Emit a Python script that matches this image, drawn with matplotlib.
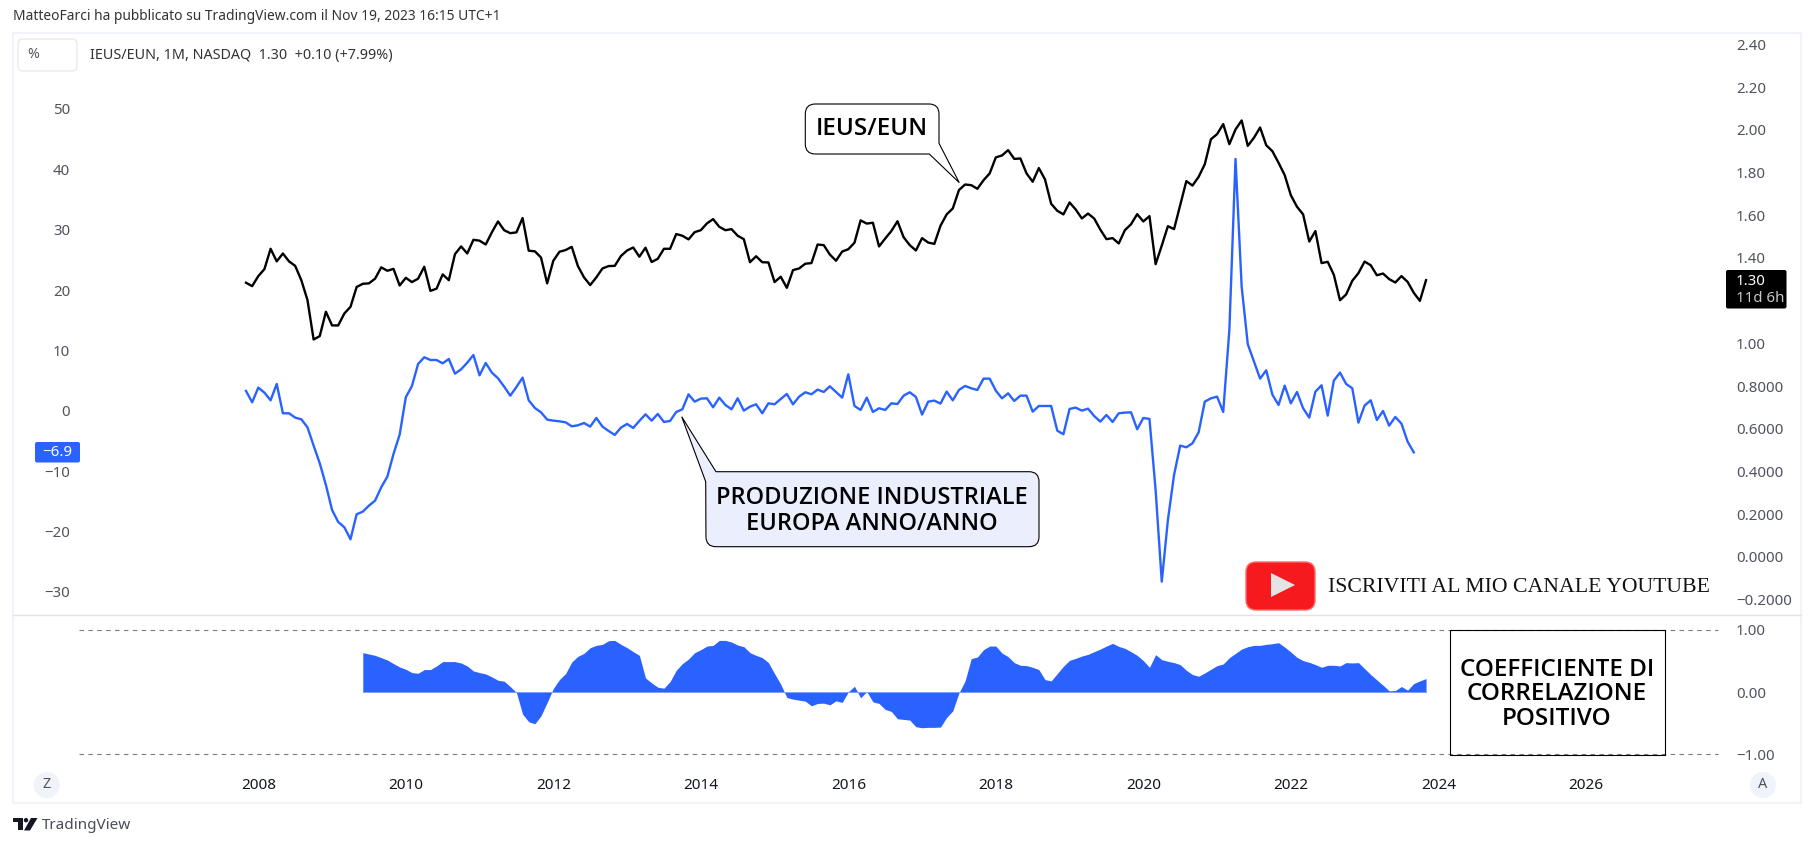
#!/usr/bin/env python3
"""TradingView chart: IEUS/EUN vs European industrial production, with correlation pane."""
import numpy as np
import matplotlib

matplotlib.use("Agg")
import matplotlib.pyplot as plt
from matplotlib.patches import FancyBboxPatch, PathPatch, Polygon, Rectangle, Circle
from matplotlib.path import Path

# === Data ===
# months are counted from Jan 2008

IEUS_START = -2   # Nov 2007
PROD_START = -2
CORR_START = 17   # Jun 2009

ieus_eun = [
    1.284, 1.268, 1.315, 1.348, 1.443, 1.384, 1.421, 1.384, 1.363, 1.296,
    1.203, 1.018, 1.034, 1.148, 1.084, 1.084, 1.140, 1.171, 1.264, 1.279,
    1.281, 1.303, 1.356, 1.340, 1.349, 1.271, 1.307, 1.287, 1.303, 1.359,
    1.246, 1.256, 1.323, 1.296, 1.418, 1.454, 1.421, 1.485, 1.481, 1.463,
    1.520, 1.571, 1.530, 1.516, 1.520, 1.587, 1.434, 1.431, 1.402, 1.281,
    1.387, 1.429, 1.437, 1.452, 1.362, 1.309, 1.273, 1.309, 1.351, 1.362,
    1.363, 1.409, 1.435, 1.449, 1.406, 1.448, 1.381, 1.396, 1.443, 1.443,
    1.512, 1.504, 1.487, 1.521, 1.530, 1.562, 1.582, 1.546, 1.530, 1.535,
    1.504, 1.488, 1.380, 1.408, 1.380, 1.379, 1.287, 1.312, 1.260, 1.343,
    1.351, 1.373, 1.376, 1.463, 1.460, 1.416, 1.387, 1.430, 1.441, 1.471,
    1.576, 1.561, 1.565, 1.454, 1.491, 1.526, 1.572, 1.497, 1.460, 1.435,
    1.493, 1.472, 1.466, 1.551, 1.604, 1.632, 1.718, 1.744, 1.741, 1.724,
    1.764, 1.796, 1.871, 1.880, 1.905, 1.864, 1.866, 1.796, 1.757, 1.821,
    1.768, 1.654, 1.621, 1.604, 1.660, 1.627, 1.585, 1.608, 1.585, 1.533,
    1.488, 1.493, 1.468, 1.530, 1.558, 1.605, 1.571, 1.596, 1.371, 1.458,
    1.549, 1.535, 1.647, 1.760, 1.739, 1.780, 1.839, 1.956, 1.980, 2.027,
    1.933, 2.002, 2.044, 1.925, 1.963, 2.011, 1.928, 1.900, 1.846, 1.788,
    1.694, 1.640, 1.604, 1.477, 1.526, 1.376, 1.382, 1.321, 1.202, 1.229,
    1.293, 1.329, 1.383, 1.366, 1.319, 1.327, 1.301, 1.285, 1.315, 1.288,
    1.237, 1.199, 1.296,
]

prod_ind = [
    3.27, 1.39, 3.82, 2.99, 1.72, 4.43, -0.43, -0.43, -1.15, -1.43,
    -2.75, -5.79, -8.72, -12.31, -16.45, -18.44, -19.33, -21.31, -17.17, -16.73,
    -15.74, -14.91, -12.70, -10.93, -7.17, -3.97, 2.22, 4.10, 7.74, 8.85,
    8.40, 8.40, 7.85, 8.57, 6.14, 6.86, 7.96, 9.23, 5.86, 7.91,
    6.31, 5.37, 3.99, 2.49, 3.93, 5.48, 1.72, 0.45, -0.27, -1.48,
    -1.65, -1.76, -1.93, -2.59, -2.42, -2.04, -2.64, -1.21, -2.64, -3.36,
    -4.02, -2.81, -2.20, -2.86, -1.70, -0.60, -1.65, -0.54, -1.87, -1.70,
    -0.21, 0.23, 2.71, 1.50, 2.00, 2.05, 0.56, 2.16, 0.95, 0.23,
    2.05, 0.01, 0.67, 1.06, -0.43, 1.22, 1.06, 1.94, 2.77, 1.06,
    2.33, 3.05, 2.72, 3.49, 3.10, 4.04, 3.10, 2.16, 6.03, 0.78,
    0.12, 2.16, -0.21, 0.40, 0.12, 1.22, 1.11, 2.49, 3.05, 2.27,
    -0.65, 1.50, 1.67, 1.17, 3.16, 1.72, 3.43, 4.10, 3.71, 3.43,
    5.31, 5.31, 3.32, 2.05, 2.88, 1.61, 2.49, 2.49, -0.16, 0.78,
    0.78, 0.78, -3.31, -3.91, 0.29, 0.51, 0.01, 0.34, -0.88, -1.81,
    -0.71, -1.87, -0.43, -0.32, -0.27, -3.08, -1.21, -1.37, -13.14, -28.33,
    -18.11, -10.65, -5.79, -6.07, -5.40, -3.58, 1.50, 2.05, 2.33, -0.21,
    13.38, 41.72, 20.56, 11.00, 8.13, 5.31, 6.69, 2.66, 0.95, 4.15,
    1.22, 3.10, 0.40, -1.15, 3.16, 4.21, -0.82, 4.98, 6.31, 4.43,
    3.71, -1.98, 0.84, 1.72, -1.54, -0.05, -2.48, -1.04, -2.15, -5.13,
    -6.90,
]

correlation = [
    .635, .613, .592, .555, .517, .459, .405, .368, .315, .304,
    .363, .363, .421, .491, .491, .491, .469, .421, .341, .315,
    .293, .245, .192, .176, .091, -.005, -.352, -.475, -.507, -.379,
    -.165, .059, .203, .299, .485, .576, .624, .715, .752, .768,
    .827, .832, .768, .715, .651, .592, .229, .149, .080, .064,
    .171, .352, .459, .533, .635, .683, .741, .752, .832, .832,
    .805, .757, .731, .635, .592, .555, .475, .299, .128, -.085,
    -.112, -.128, -.144, -.219, -.181, -.176, -.203, -.139, -.165, .005,
    .096, -.091, .011, -.155, -.181, -.277, -.309, -.427, -.437, -.448,
    -.555, -.571, -.565, -.565, -.560, -.405, -.299, -.011, .181, .539,
    .565, .683, .741, .741, .629, .571, .475, .432, .427, .400,
    .363, .203, .181, .299, .416, .512, .544, .581, .608, .651,
    .693, .741, .784, .736, .704, .651, .592, .507, .400, .603,
    .523, .496, .475, .443, .352, .283, .256, .309, .368, .427,
    .453, .555, .624, .693, .731, .752, .752, .768, .779, .795,
    .725, .645, .560, .507, .480, .443, .400, .432, .432, .421,
    .475, .469, .475, .379, .283, .197, .112, .021, .027, .091,
    .032, .139, .181, .219,
]

year_ticks = [0, 24, 48, 72, 96, 120, 144, 168, 192, 216]
year_labels = ["2008", "2010", "2012", "2014", "2016", "2018", "2020", "2022", "2024", "2026"]

left_ticks = [50, 40, 30, 20, 10, 0, -10, -20, -30]
left_labels = ["50", "40", "30", "20", "10", "0", "\u221210", "\u221220", "\u221230"]

right_ticks = [2.4, 2.2, 2.0, 1.8, 1.6, 1.4, 1.0, 0.8, 0.6, 0.4, 0.2, 0.0, -0.2]
right_labels = ["2.40", "2.20", "2.00", "1.80", "1.60", "1.40", "1.00", "0.8000", "0.6000",
                "0.4000", "0.2000", "0.0000", "\u22120.2000"]

corr_ticks = [1, 0, -1]
corr_labels = ["1.00", "0.00", "\u22121.00"]

# === Style ===

W, H = 1814, 847
BLUE = "#2962FF"
AXIS_TXT = "#50535e"
FRAME = "#f0f3fa"
plt.rcParams["font.family"] = ["Noto Sans", "DejaVu Sans"]
CALLOUT_FONT = "Open Sans"
TICK_SIZE = 10.8


def rect_px(x0, y0, x1, y1):
    return [x0 / W, 1 - y1 / H, (x1 - x0) / W, (y1 - y0) / H]


def round_path(pts):
    """Closed outline from (x, y, radius) corners."""
    verts, codes = [], []
    n = len(pts)
    for i, (x, y, r) in enumerate(pts):
        if r == 0:
            verts.append((x, y))
            codes.append(Path.LINETO)
            continue
        px, py, _ = pts[i - 1]
        nx, ny, _ = pts[(i + 1) % n]
        a = np.array([px - x, py - y], float)
        b = np.array([nx - x, ny - y], float)
        a = a / np.hypot(*a) * r
        b = b / np.hypot(*b) * r
        verts += [(x + a[0], y + a[1]), (x, y), (x + b[0], y + b[1])]
        codes += [Path.LINETO, Path.CURVE3, Path.CURVE3]
    codes[0] = Path.MOVETO
    verts.append(verts[0])
    codes.append(Path.CLOSEPOLY)
    return Path(verts, codes)


fig = plt.figure(figsize=(W / 100, H / 100), dpi=100, facecolor="white")

# === Panes ===

X_LEFT, X_RIGHT = 75, 1730
PX_MONTH = 6.146
X_JAN08 = 258.3
xlim = ((X_LEFT - X_JAN08) / PX_MONTH, (X_RIGHT - X_JAN08) / PX_MONTH)

ax = fig.add_axes(rect_px(X_LEFT, 34, X_RIGHT, 614.5))
ax.set_xlim(xlim)
ax.set_ylim(-33.78, 62.43)
ax_r = ax.twinx()
ax_r.set_ylim(-0.270, 2.449)

ax.plot(PROD_START + np.arange(len(prod_ind)), prod_ind, color=BLUE, lw=1.7, solid_joinstyle="round")
ax_r.plot(IEUS_START + np.arange(len(ieus_eun)), ieus_eun, color="black", lw=1.7, solid_joinstyle="round")

ax.set_yticks(left_ticks, left_labels)
ax_r.set_yticks(right_ticks, right_labels)
ax.tick_params(axis="y", length=0, pad=3.6, labelsize=TICK_SIZE, labelcolor=AXIS_TXT)
ax_r.tick_params(axis="y", length=0, pad=4.3, labelsize=TICK_SIZE, labelcolor=AXIS_TXT)
ax.set_xticks([])

ax2 = fig.add_axes(rect_px(X_LEFT, 615.5, X_RIGHT, 770))
ax2.set_xlim(xlim)
ax2.set_ylim(-1.250, 1.232)
corr_x = CORR_START + np.arange(len(correlation))
ax2.fill_between(corr_x, correlation, 0, color=BLUE, lw=0)
ax2.plot(corr_x, np.zeros(len(corr_x)), color="#7fa0ff", lw=0.7)
for lev in (1, -1):
    ax2.axhline(lev, xmin=0.0024, xmax=0.9927, color="#787B86", lw=0.8, ls=(0, (4, 4)))
ax2.set_xticks(year_ticks, year_labels, fontweight="bold")
ax2.tick_params(axis="x", length=0, pad=5.6, labelsize=11, labelcolor="#131722")
ax2.yaxis.tick_right()
ax2.set_yticks(corr_ticks, corr_labels)
ax2.tick_params(axis="y", length=0, pad=4.3, labelsize=TICK_SIZE, labelcolor=AXIS_TXT)

for a in (ax, ax_r, ax2):
    a.set_facecolor("none")
    for s in a.spines.values():
        s.set_visible(False)

# === Overlay in image pixels: frame, callouts, logos ===

ov = fig.add_axes([0, 0, 1, 1], zorder=10)
ov.set_xlim(0, W)
ov.set_ylim(H, 0)
ov.axis("off")

ov.add_patch(Rectangle((13, 33), 1788, 770, fill=False, ec=FRAME, lw=1.5))
ov.plot([13, 1801], [615, 615], color="#e0e3eb", lw=1.0)

ov.text(13, 16.5, "MatteoFarci ha pubblicato su TradingView.com il Nov 19, 2023 16:15 UTC+1",
        fontsize=9.95, color="#333333", va="center")
ov.add_patch(FancyBboxPatch((18, 39), 59, 32, boxstyle="round,pad=0,rounding_size=5",
                            fc="white", ec="#e8eaf0", lw=1.0))
ov.text(33, 55, "%", fontsize=10.2, color=AXIS_TXT, va="center", ha="center")
ov.text(90, 55, "IEUS/EUN, 1M, NASDAQ  1.30  +0.10 (+7.99%)", fontsize=10.35, color="#333333", va="center")

# callouts
call1 = [(805.3, 104, 10), (939, 104, 10), (939, 143.3, 0), (959.3, 182.7, 0),
         (929.3, 154, 0), (805.3, 154, 10)]
ov.add_patch(PathPatch(round_path(call1), fc="white", ec="black", lw=0.8))
ov.text(872, 129, "IEUS/EUN", fontsize=17.5, family=CALLOUT_FONT, fontweight="semibold",
        ha="center", va="center", color="black")

call2 = [(716, 471.7, 0), (1039, 471.7, 10), (1039, 546.7, 10), (706, 546.7, 10),
         (705.7, 481.7, 0), (681.7, 416.7, 0)]
ov.add_patch(PathPatch(round_path(call2), fc="#eaeefd", ec="black", lw=0.8))
ov.text(872, 498.5, "PRODUZIONE INDUSTRIALE", fontsize=17, family=CALLOUT_FONT, fontweight="semibold",
        ha="center", va="center", color="black")
ov.text(872, 523.5, "EUROPA ANNO/ANNO", fontsize=17, family=CALLOUT_FONT, fontweight="semibold",
        ha="center", va="center", color="black")

# correlation note
ov.add_patch(Rectangle((1449.7, 630.5), 215, 124.5, fill=False, ec="black", lw=0.8))
for txt, yy in zip(["COEFFICIENTE DI", "CORRELAZIONE", "POSITIVO"], [669.5, 694.5, 719]):
    ov.text(1557, yy, txt, fontsize=17.5, family=CALLOUT_FONT, fontweight="semibold",
            ha="center", va="center", color="black")

# youtube banner
ov.add_patch(FancyBboxPatch((1246, 562), 69, 48, boxstyle="round,pad=0,rounding_size=10",
                            fc="#f6191e", ec="#ff6a6a", lw=1.0))
ov.add_patch(Polygon([(1271, 573), (1295, 585), (1271, 597)], fc="#e4e4e4", ec="none"))
ov.text(1327.5, 588, "ISCRIVITI AL MIO CANALE YOUTUBE", fontsize=15.7, family="Liberation Serif",
        va="center", color="#111111")

# last value tags
ov.add_patch(FancyBboxPatch((35, 442), 45, 20.5, boxstyle="round,pad=0,rounding_size=2", fc=BLUE, ec="none"))
ov.text(57, 452, "\u22126.9", fontsize=TICK_SIZE, color="white", ha="center", va="center")
ov.add_patch(FancyBboxPatch((1726, 270), 60.5, 38.5, boxstyle="round,pad=0,rounding_size=2", fc="black", ec="none"))
ov.text(1736, 281.5, "1.30", fontsize=TICK_SIZE, color="white", va="center", fontweight="bold")
ov.text(1736, 299, "11d 6h", fontsize=TICK_SIZE, color="#c8c8c8", va="center")

# scale buttons
for cx, lab in [(46.7, "Z"), (1763, "A")]:
    ov.add_patch(Circle((cx, 785), 13, fc="#f0f3fa", ec="none"))
    ov.text(cx, 785, lab, fontsize=10.5, color=AXIS_TXT, ha="center", va="center")

# TradingView mark
ov.add_patch(Polygon([(13, 818), (22.5, 818), (22.5, 830.5), (18, 830.5), (18, 822.5), (13, 822.5)],
                     fc="#131722", ec="none"))
ov.add_patch(Circle((26, 820.2), 2.2, fc="#131722", ec="none"))
ov.add_patch(Polygon([(31, 818), (37.5, 818), (30, 830.5), (24, 830.5)], fc="#131722", ec="none"))
ov.text(42, 825.5, "TradingView", fontsize=11, color="#4a4d57", va="center")

fig.savefig("out.png", dpi=100)
